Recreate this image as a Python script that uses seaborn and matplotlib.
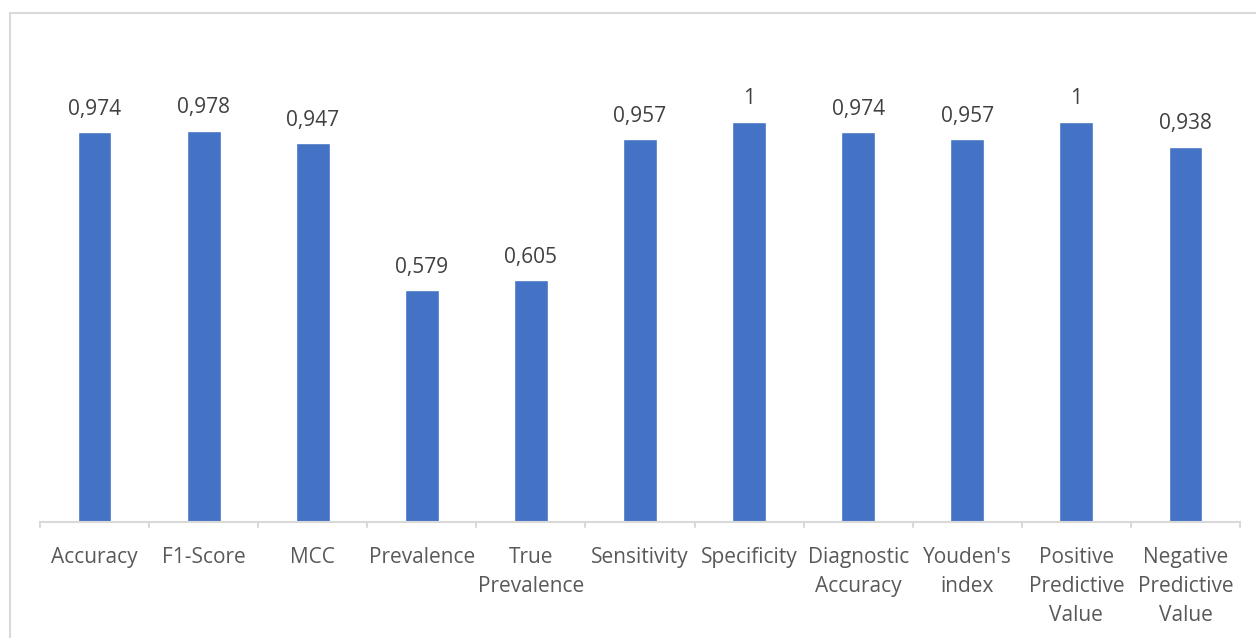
import matplotlib
matplotlib.use("Agg")
import matplotlib.pyplot as plt
import matplotlib.patches as mpatches
import seaborn as sns
import pandas as pd

categories = ["Accuracy", "F1-Score", "MCC", "Prevalence", "True\nPrevalence",
              "Sensitivity", "Specificity", "Diagnostic\nAccuracy", "Youden's\nindex",
              "Positive\nPredictive\nValue", "Negative\nPredictive\nValue"]
values = [0.974, 0.978, 0.947, 0.579, 0.605, 0.957, 1.0, 0.974, 0.957, 1.0, 0.938]
value_labels = ["0,974", "0,978", "0,947", "0,579", "0,605", "0,957", "1",
                "0,974", "0,957", "1", "0,938"]

sns.set_theme(style="white")
plt.rcParams["font.family"] = ["Open Sans", "DejaVu Sans"]

text_color = "#595959"
axis_color = "#d9d9d9"
bar_color = "#4472c4"

fig = plt.figure(figsize=(12.56, 6.38), dpi=100)
ax = fig.add_axes([40 / 1256, 116 / 638, 1200 / 1256, 480 / 638])

df = pd.DataFrame({"metric": categories, "value": values})
sns.barplot(data=df, x="metric", y="value", color=bar_color, width=0.31,
            saturation=1, ax=ax)

ax.set_ylim(0, 1.2)
ax.set_xlim(-0.5, len(categories) - 0.5)
ax.set_xlabel("")
ax.set_ylabel("")
ax.set_yticks([])

for s in ["top", "right", "left"]:
    ax.spines[s].set_visible(False)
ax.spines["bottom"].set_color(axis_color)
ax.spines["bottom"].set_linewidth(1.5)

ax.tick_params(axis="x", length=0, pad=18, labelsize=15, labelcolor=text_color)
ax.set_xticks(range(len(categories)))
ax.set_xticklabels(categories, linespacing=1.5)

# category boundary ticks
for b in [i - 0.5 for i in range(len(categories) + 1)]:
    ax.plot([b, b], [0, -0.012], color=axis_color, lw=1.5, clip_on=False)

for i, (v, lab) in enumerate(zip(values, value_labels)):
    ax.annotate(lab, (i, v), xytext=(0, 9), textcoords="offset points",
                ha="center", va="bottom", fontsize=15, color="#404040")

# chart area border
fig.patches.append(mpatches.Rectangle((10 / 1256, -0.1), 1.2, (625 / 638) + 0.1,
                                      transform=fig.transFigure, fill=False,
                                      edgecolor=axis_color, linewidth=1.5))

fig.savefig("out.png", dpi=100)
